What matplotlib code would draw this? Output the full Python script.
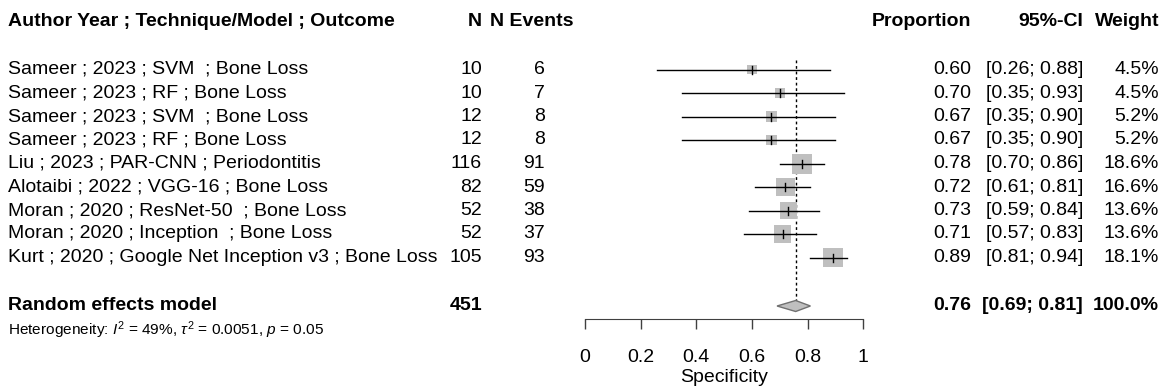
import numpy as np
import matplotlib.pyplot as plt
from matplotlib.patches import Rectangle, Polygon

plt.rcParams['font.family'] = ['Liberation Sans', 'DejaVu Sans']
plt.rcParams['mathtext.fontset'] = 'custom'
plt.rcParams['mathtext.rm'] = 'Liberation Sans'
plt.rcParams['mathtext.it'] = 'Liberation Sans:italic'

# study data
studies = ["Sameer ; 2023 ; SVM  ; Bone Loss",
           "Sameer ; 2023 ; RF ; Bone Loss",
           "Sameer ; 2023 ; SVM  ; Bone Loss",
           "Sameer ; 2023 ; RF ; Bone Loss",
           "Liu ; 2023 ; PAR-CNN ; Periodontitis",
           "Alotaibi ; 2022 ; VGG-16 ; Bone Loss",
           "Moran ; 2020 ; ResNet-50  ; Bone Loss",
           "Moran ; 2020 ; Inception  ; Bone Loss",
           "Kurt ; 2020 ; Google Net Inception v3 ; Bone Loss"]
n_total = [10, 10, 12, 12, 116, 82, 52, 52, 105]
n_events = [6, 7, 8, 8, 91, 59, 38, 37, 93]
prop = [0.60, 0.70, 0.67, 0.67, 0.78, 0.72, 0.73, 0.71, 0.89]
lower = [0.26, 0.35, 0.35, 0.35, 0.70, 0.61, 0.59, 0.57, 0.81]
upper = [0.88, 0.93, 0.90, 0.90, 0.86, 0.81, 0.84, 0.83, 0.94]
weight = [4.5, 4.5, 5.2, 5.2, 18.6, 16.6, 13.6, 13.6, 18.1]

pooled = 0.757
pooled_lo = 0.69
pooled_hi = 0.81
pooled_n = 451
het_text = r"Heterogeneity: $I^{2}$ = 49%, $\tau^{2}$ = 0.0051, $p$ = 0.05"

W, H = 1162, 388
fig = plt.figure(figsize=(W / 100, H / 100), dpi=100)

# text layer in pixel coordinates
tx = fig.add_axes([0, 0, 1, 1])
tx.set_xlim(0, W)
tx.set_ylim(H, 0)
tx.axis('off')

# forest panel: x from 0 to 1, y in pixel rows
x0, x1 = 585, 863.3
ytop, ybot = 40, 319
fx = fig.add_axes([x0 / W, (H - ybot) / H, (x1 - x0) / W, (ybot - ytop) / H])
fx.set_xlim(0, 1)
fx.set_ylim(ybot, ytop)
fx.patch.set_alpha(0)
for s in ['top', 'right', 'left']:
    fx.spines[s].set_visible(False)
fx.spines['bottom'].set_color('#404040')
fx.set_yticks([])
fx.set_xticks([0, 0.2, 0.4, 0.6, 0.8, 1.0])
fx.set_xticklabels(['0', '0.2', '0.4', '0.6', '0.8', '1'])
fx.tick_params(axis='x', direction='out', length=7.5, width=1, colors='#404040',
               labelcolor='black', labelsize=14, pad=14)
fx.set_xlabel('Specificity', fontsize=14, labelpad=2)

fs = 14.0
row_y = [69.5 + 23.5 * i for i in range(len(studies))]
px_per_unit = x1 - x0

# header
hy = 22
tx.text(8, hy, "Author Year ; Technique/Model ; Outcome", fontsize=fs, weight='bold', va='center')
tx.text(482, hy, "N", fontsize=fs, weight='bold', va='center', ha='right')
tx.text(573, hy, "N Events", fontsize=fs, weight='bold', va='center', ha='right')
tx.text(971, hy, "Proportion", fontsize=fs, weight='bold', va='center', ha='right')
tx.text(1083, hy, "95%-CI", fontsize=fs, weight='bold', va='center', ha='right')
tx.text(1159, hy, "Weight", fontsize=fs, weight='bold', va='center', ha='right')

for i, y in enumerate(row_y):
    tx.text(8, y, studies[i], fontsize=fs, va='center')
    tx.text(482, y, str(n_total[i]), fontsize=fs, va='center', ha='right')
    tx.text(545, y, str(n_events[i]), fontsize=fs, va='center', ha='right')
    tx.text(971, y, f"{prop[i]:.2f}", fontsize=fs, va='center', ha='right')
    tx.text(1083, y, f"[{lower[i]:.2f}; {upper[i]:.2f}]", fontsize=fs, va='center', ha='right')
    tx.text(1159, y, f"{weight[i]:.1f}%", fontsize=fs, va='center', ha='right')

    side = 20 * np.sqrt(weight[i] / max(weight))
    fx.add_patch(Rectangle((prop[i] - side / 2 / px_per_unit, y - side / 2),
                           side / px_per_unit, side, facecolor='#BFBFBF',
                           edgecolor='none', zorder=2))
    fx.plot([lower[i], upper[i]], [y, y], color='black', lw=1.0, zorder=3)
    fx.plot([prop[i], prop[i]], [y - 4, y + 4], color='black', lw=1.0, zorder=4)

# pooled estimate
py = 306
tx.text(8, py, "Random effects model", fontsize=fs, weight='bold', va='center')
tx.text(482, py, str(pooled_n), fontsize=fs, weight='bold', va='center', ha='right')
tx.text(971, py, f"{pooled:.2f}", fontsize=fs, weight='bold', va='center', ha='right')
tx.text(1083, py, f"[{pooled_lo:.2f}; {pooled_hi:.2f}]", fontsize=fs, weight='bold', va='center', ha='right')
tx.text(1159, py, "100.0%", fontsize=fs, weight='bold', va='center', ha='right')
tx.text(8, 330, het_text, fontsize=11.1, va='center')

fx.add_patch(Polygon([(pooled_lo, py), (pooled, py - 5.5), (pooled_hi, py), (pooled, py + 5.5)],
                     closed=True, facecolor='#BFBFBF', edgecolor='#707070', lw=1.0,
                     zorder=3, clip_on=False))
fx.plot([pooled, pooled], [60, py - 5.5], color='black', lw=1.0, ls=(0, (2, 2)), zorder=1)

fig.savefig('out.png', dpi=100)
